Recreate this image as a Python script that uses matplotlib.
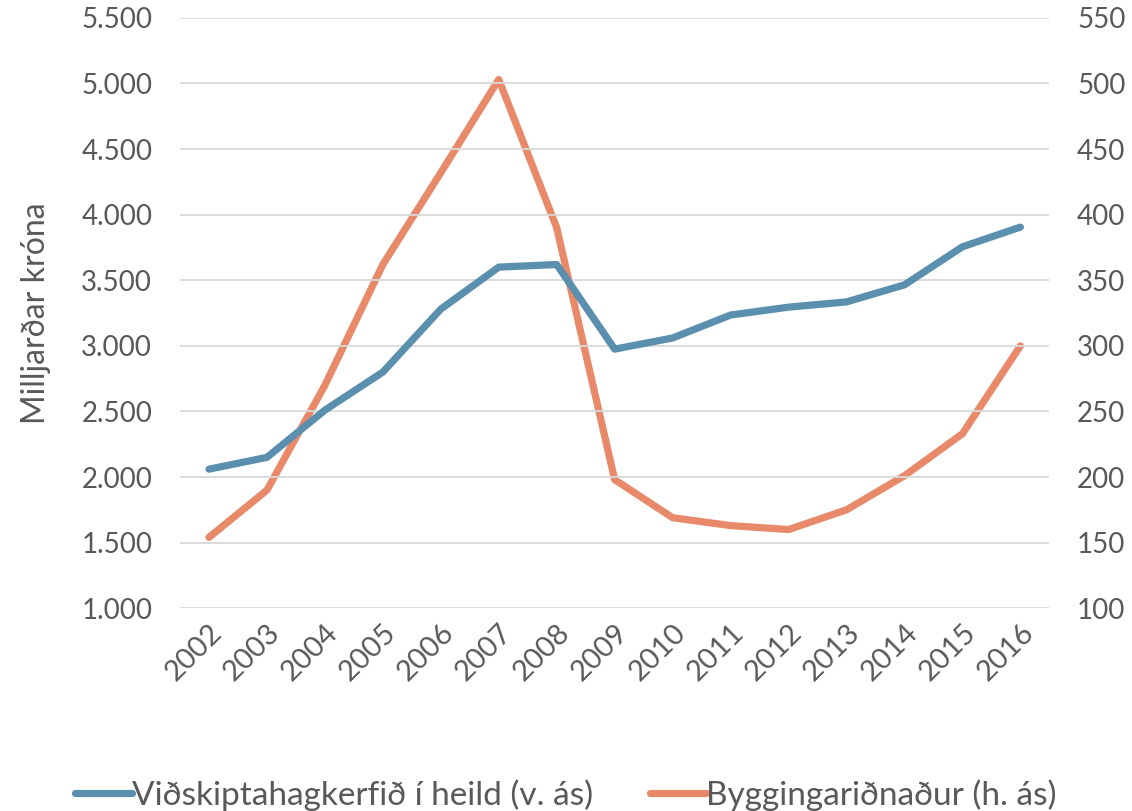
import matplotlib.pyplot as plt
from matplotlib.ticker import FuncFormatter

# gögn lesin af myndinni
ar = [2002, 2003, 2004, 2005, 2006, 2007, 2008, 2009, 2010, 2011, 2012, 2013, 2014, 2015, 2016]
heild = [2060, 2150, 2510, 2800, 3280, 3600, 3620, 2975, 3060, 3235, 3295, 3335, 3465, 3755, 3905]
bygging = [154, 190, 270, 362, 432, 503, 390, 198, 169, 163, 160, 175, 201, 233, 300]

blar = '#5a8fae'
appelsinugulur = '#e8896a'
grar = '#595959'

plt.rcParams['font.family'] = ['Lato', 'DejaVu Sans']

fig = plt.figure(figsize=(11.32, 8.11), dpi=100)
ax = fig.add_axes([0.159, 0.250, 0.768, 0.728])
ax2 = ax.twinx()

l1, = ax.plot(ar, heild, color=blar, lw=5.2, solid_capstyle='round', zorder=3)
l2, = ax2.plot(ar, bygging, color=appelsinugulur, lw=5.2, solid_capstyle='round', zorder=3)

ax.set_xlim(2001.5, 2016.5)
ax.set_ylim(1000, 5500)
ax2.set_ylim(100, 550)
ax.set_yticks(range(1000, 5501, 500))
ax2.set_yticks(range(100, 551, 50))
ax.set_xticks(ar)
ax.set_xticklabels([str(a) for a in ar], rotation=45, ha='right', rotation_mode='anchor')

ax.yaxis.set_major_formatter(FuncFormatter(lambda v, p: f'{int(v):,}'.replace(',', '.')))
ax.grid(axis='y', color='#d9d9d9', lw=1.3)
ax.set_axisbelow(True)

for a in (ax, ax2):
    for s in a.spines.values():
        s.set_visible(False)
    a.tick_params(length=0, labelsize=20, labelcolor=grar)
ax.tick_params(axis='y', pad=20)
ax2.tick_params(axis='y', pad=20)
ax.tick_params(axis='x', pad=8, labelsize=21)

ax.set_zorder(ax2.get_zorder() + 1)
ax.patch.set_visible(False)

ax.set_ylabel('Milljarðar króna', fontsize=23, color=grar, labelpad=22)

fig.legend([l1, l2], ['Viðskiptahagkerfið í heild (v. ás)', 'Byggingariðnaður (h. ás)'],
           loc='lower center', bbox_to_anchor=(0.5, -0.037), ncol=2, frameon=False,
           fontsize=24, labelcolor=grar, handlelength=1.7, handletextpad=0.0,
           columnspacing=1.7)

fig.savefig('out.png', dpi=100)
